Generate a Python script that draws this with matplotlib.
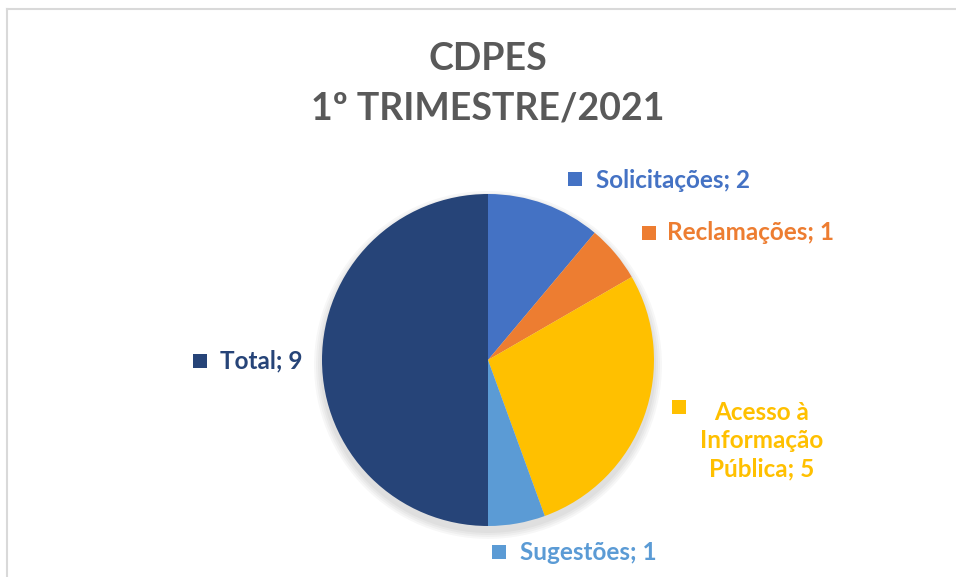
import matplotlib.pyplot as plt
from matplotlib.patches import Rectangle
from matplotlib.lines import Line2D

# dados do grafico
categorias = ["Solicitações", "Reclamações", "Acesso à\nInformação\nPública", "Sugestões", "Total"]
valores = [2, 1, 5, 1, 9]
cores = ["#4472C4", "#ED7D31", "#FFC000", "#5B9BD5", "#264478"]
titulo = ["CDPES", "1º TRIMESTRE/2021"]

W, H = 956, 577
fig = plt.figure(figsize=(W / 100, H / 100), dpi=100)
fig.patch.set_facecolor("white")


def px(x, y):
    return x / W, 1 - y / H


# borda (so aparecem topo e esquerda)
fig.add_artist(Line2D([7 / W, 1], [1 - 9 / H, 1 - 9 / H], color="#D9D9D9", lw=1.5))
fig.add_artist(Line2D([7 / W, 7 / W], [1 - 9 / H, 0], color="#D9D9D9", lw=1.5))

# pizza: centro (488, 360), raio 166 px
cx, cy, r = 488, 360, 166
ax = fig.add_axes([(cx - r * 1.1) / W, (H - cy - r * 1.1) / H, 2.2 * r / W, 2.2 * r / H])

# sombra suave
for i in range(4):
    ax.add_patch(plt.Circle((0, -0.03), 1.0 + 0.012 * (i + 1), color="black",
                            alpha=0.03, lw=0, zorder=0))

ax.pie(valores, colors=cores, startangle=90, counterclock=False,
       wedgeprops=dict(linewidth=0), radius=1)
ax.set_xlim(-1.1, 1.1)
ax.set_ylim(-1.1, 1.1)
ax.axis("off")

fonte = "Lato"

# titulo
for linha, ty in zip(titulo, [59, 109]):
    x, y = px(488, ty)
    fig.text(x, y, linha, ha="center", va="center", fontsize=27, fontweight="bold",
             color="#595959", family=fonte)

# rotulos: (x do quadrado, y do quadrado, x do texto, y do texto, alinhamento)
posicoes = [
    (568, 179, 596, 180, "left"),
    (642, 233, 667, 233, "left"),
    (672, 407, 762, 441, "center"),
    (492, 552, 520, 552, "left"),
    (193, 361, 220, 361, "left"),
]

for cat, val, cor, (qx, qy, tx, ty, al) in zip(categorias, valores, cores, posicoes):
    fig.add_artist(Rectangle((qx / W, 1 - (qy + 7) / H), 14 / W, 14 / H,
                             transform=fig.transFigure, color=cor, lw=0))
    x, y = px(tx, ty)
    fig.text(x, y, f"{cat}; {val}", ha=al, va="center", multialignment="center",
             fontsize=17.5, fontweight="bold", color=cor, family=fonte, linespacing=1.28)

fig.savefig("out.png", dpi=100)
